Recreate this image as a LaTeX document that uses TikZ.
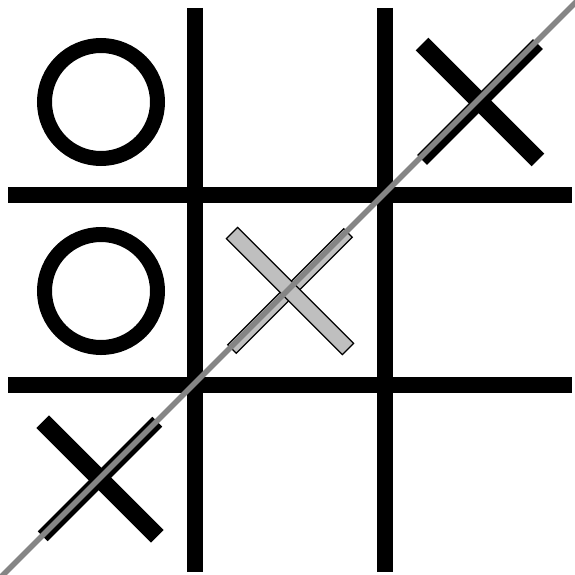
\documentclass[tikz,border=0pt]{standalone}
\usetikzlibrary{calc}
\begin{document}
\begin{tikzpicture}[x=1pt,y=-1pt,
  gridline/.style={line width=16pt,black},
  ring/.style={line width=15pt,black},
  blackbar/.style={fill=black,draw=none},
  greybar/.style={fill=black!25,draw=black,line width=1.2pt},
  diag/.style={line width=5.5pt,draw=black!48}]
\useasboundingbox (0,0) rectangle (574,575);
\fill[white] (0,0) rectangle (574,575);
% grid
\coordinate (v1t) at (195,8);   \coordinate (v1b) at (195,572);
\coordinate (v2t) at (385,8);   \coordinate (v2b) at (385,572);
\coordinate (h1l) at (8,195);   \coordinate (h1r) at (572,195);
\coordinate (h2l) at (8,385);   \coordinate (h2r) at (572,385);
\draw[gridline] (v1t) -- (v1b);
\draw[gridline] (v2t) -- (v2b);
\draw[gridline] (h1l) -- (h1r);
\draw[gridline] (h2l) -- (h2r);
% circles
\coordinate (o1) at (101,102);
\coordinate (o2) at (101,291);
\draw[ring] (o1) circle[radius=56.5];
\draw[ring] (o2) circle[radius=56.5];
% X centres
\coordinate (xtr) at (480,102);
\coordinate (xmm) at (290,291);
\coordinate (xbl) at (100,479);
% top-right X
\fill[blackbar,rotate around={45:(xtr)}] ($(xtr)+(-82,-7)$) rectangle ($(xtr)+(82,7)$);
\fill[blackbar,rotate around={-45:(xtr)}] ($(xtr)+(-82,-9)$) rectangle ($(xtr)+(82,9)$);
% bottom-left X
\fill[blackbar,rotate around={45:(xbl)}] ($(xbl)+(-81,-7)$) rectangle ($(xbl)+(81,7)$);
\fill[blackbar,rotate around={-45:(xbl)}] ($(xbl)+(-81,-9)$) rectangle ($(xbl)+(81,9)$);
% middle grey X
\draw[greybar,rotate around={45:(xmm)}] ($(xmm)+(-82,-6)$) rectangle ($(xmm)+(82,6)$);
\draw[greybar,rotate around={-45:(xmm)}] ($(xmm)+(-82,-8)$) rectangle ($(xmm)+(82,8)$);
% diagonal
\coordinate (dA) at (0,578);
\coordinate (dB) at (578,0);
\draw[diag] (dA) -- (dB);
\end{tikzpicture}
\end{document}
